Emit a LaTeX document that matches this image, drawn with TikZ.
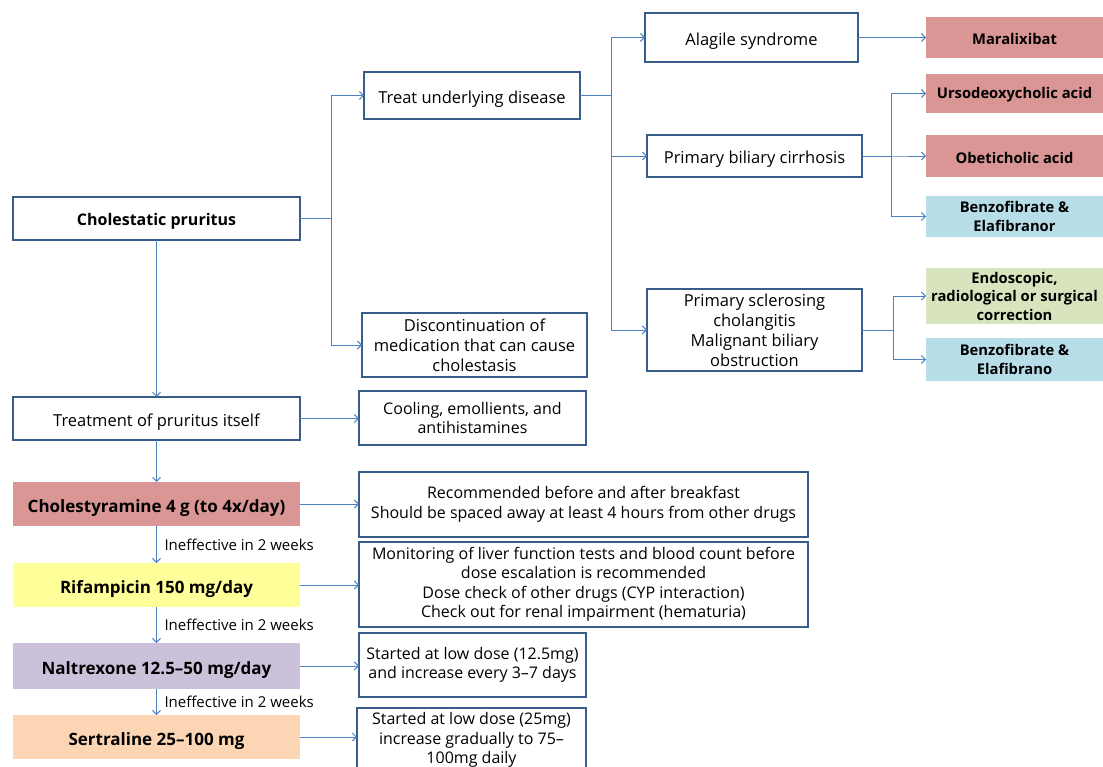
\documentclass[tikz,border=0pt]{standalone}
\usepackage{fontspec}
\setmainfont{Open Sans}
\usetikzlibrary{arrows.meta}
\definecolor{boxline}{HTML}{385D8A}
\definecolor{linkblue}{HTML}{4F81BD}
\definecolor{drugred}{HTML}{D99694}
\definecolor{drugblue}{HTML}{B7DDE8}
\definecolor{druggreen}{HTML}{D7E4BD}
\definecolor{drugyellow}{HTML}{FFFF99}
\definecolor{druglilac}{HTML}{CCC1DA}
\definecolor{drugpeach}{HTML}{FCD5B5}

\begin{document}
\begin{tikzpicture}[
  x=1pt, y=-1pt,
  every node/.style={inner sep=2pt, outer sep=0pt, align=center, font=\fontsize{16.5}{20}\selectfont},
  textdrop/.style={execute at begin node={\rule{0pt}{#1}}},
  textdrop/.default=1.15em,
  plainbox/.style={draw=boxline, line width=2pt, fill=white, textdrop},
  notebox/.style={plainbox, font=\fontsize{16}{19.5}\selectfont},
  drugbox/.style={font=\fontsize{14.75}{18.5}\selectfont\bfseries, textdrop=0.97em},
  therapy/.style={minimum width=287pt, font=\fontsize{17}{20}\selectfont\bfseries, textdrop=1.2em},
  link/.style={draw=linkblue, line width=0.9pt, -{Straight Barb[length=4pt, width=8pt]}},
  weeklabel/.style={font=\fontsize{15}{18}\selectfont, anchor=west, xshift=6pt}
]
\useasboundingbox (0,0) rectangle (1103,767);
\clip (0,0) rectangle (1103,767);

\node[plainbox, minimum width=287pt, minimum height=43pt, font=\fontsize{16}{20}\selectfont\bfseries] (chol) at (156.5,218.5) {Cholestatic pruritus};
\node[plainbox, minimum width=216pt, minimum height=47pt] (treat) at (472,95.5) {Treat underlying disease};
\node[plainbox, minimum width=225pt, minimum height=64pt] (disc) at (474.5,345) {Discontinuation of\\medication that can cause\\cholestasis};
\node[plainbox, minimum width=213pt, minimum height=49pt] (alag) at (751.5,37.5) {Alagile syndrome};
\node[plainbox, minimum width=215pt, minimum height=82pt] (psc) at (754.5,330) {Primary sclerosing\\cholangitis\\Malignant biliary\\obstruction};
\node[plainbox, minimum width=215pt, minimum height=42pt] (pbc) at (754.5,156) {Primary biliary cirrhosis};

\node[drugbox, fill=drugred, minimum width=177pt, minimum height=41pt] (mara) at (1014.5,37.5) {Maralixibat};
\node[drugbox, fill=drugred, minimum width=177pt, minimum height=39pt] (urso) at (1014.5,93.5) {Ursodeoxycholic acid};
\node[drugbox, fill=drugred, minimum width=177pt, minimum height=42pt] (obet) at (1014.5,156) {Obeticholic acid};
\node[drugbox, fill=drugblue, minimum width=177pt, minimum height=41pt] (benza) at (1014.5,216.5) {Benzofibrate \&\\Elafibranor};
\node[drugbox, fill=druggreen, minimum width=177pt, minimum height=56pt] (endo) at (1014.5,296) {Endoscopic,\\radiological or surgical\\correction};
\node[drugbox, fill=drugblue, minimum width=177pt, minimum height=43pt] (benzb) at (1014.5,359.5) {Benzofibrate \&\\Elafibrano};

\node[plainbox, minimum width=287pt, minimum height=43pt] (itself) at (156.5,418.5) {Treatment of pruritus itself};
\node[notebox, minimum width=227pt, minimum height=54pt] (cool) at (472.5,418) {Cooling, emollients, and\\antihistamines};

\node[therapy, fill=drugred, minimum height=44pt] (chy) at (156.5,504) {Cholestyramine 4 g (to 4x/day)};
\node[therapy, fill=drugyellow, minimum height=44pt] (rif) at (156.5,585) {Rifampicin 150 mg/day};
\node[therapy, fill=druglilac, minimum height=46pt] (nal) at (156.5,666) {Naltrexone 12.5–50 mg/day};
\node[therapy, fill=drugpeach, minimum height=44pt] (sert) at (156.5,737) {Sertraline 25–100 mg};

\node[notebox, minimum width=449pt, minimum height=65pt] (rec) at (583.5,504.5) {Recommended before and after breakfast\\Should be spaced away at least 4 hours from other drugs};
\node[notebox, minimum width=449pt, minimum height=85pt] (mon) at (583.5,584.5) {Monitoring of liver function tests and blood count before\\dose escalation is recommended\\Dose check of other drugs (CYP interaction)\\Check out for renal impairment (hematuria)};
\node[notebox, minimum width=227pt, minimum height=64pt] (lowa) at (472.5,665) {Started at low dose (12.5mg)\\and increase every 3–7 days};
\node[notebox, minimum width=229pt, minimum height=64pt] (lowb) at (471.5,740) {Started at low dose (25mg)\\increase gradually to 75–\\100mg daily};

\draw[link] (chol.east) -- ++(31,0) |- (treat);
\draw[link] (chol.east) -- ++(31,0) |- (disc);
\draw[link] (treat.east) -- ++(31,0) |- (alag);
\draw[link] (treat.east) -- ++(31,0) |- (pbc);
\draw[link] (treat.east) -- ++(31,0) |- (psc);
\draw[link] (alag.east) -- (alag.east -| mara.west);
\draw[link] (pbc.east) -- ++(29,0) |- (urso);
\draw[link] (pbc.east) -- ++(29,0) |- (obet);
\draw[link] (pbc.east) -- ++(29,0) |- (benza);
\draw[link] (psc.east) -- ++(31,0) |- (endo);
\draw[link] (psc.east) -- ++(31,0) |- (benzb);

\draw[link] (chol) -- (itself);
\draw[link] (itself.east) -- (itself.east -| cool.west);
\draw[link] (itself) -- (chy);
\draw[link] (chy) -- node[weeklabel] {Ineffective in 2 weeks} (rif);
\draw[link] (rif) -- node[weeklabel] {Ineffective in 2 weeks} (nal);
\draw[link] (nal) -- node[weeklabel] {Ineffective in 2 weeks} (sert);
\draw[link] (chy.east) -- (chy.east -| rec.west);
\draw[link] (rif.east) -- (rif.east -| mon.west);
\draw[link] (nal.east) -- (nal.east -| lowa.west);
\draw[link] (sert.east) -- (sert.east -| lowb.west);
\end{tikzpicture}
\end{document}
